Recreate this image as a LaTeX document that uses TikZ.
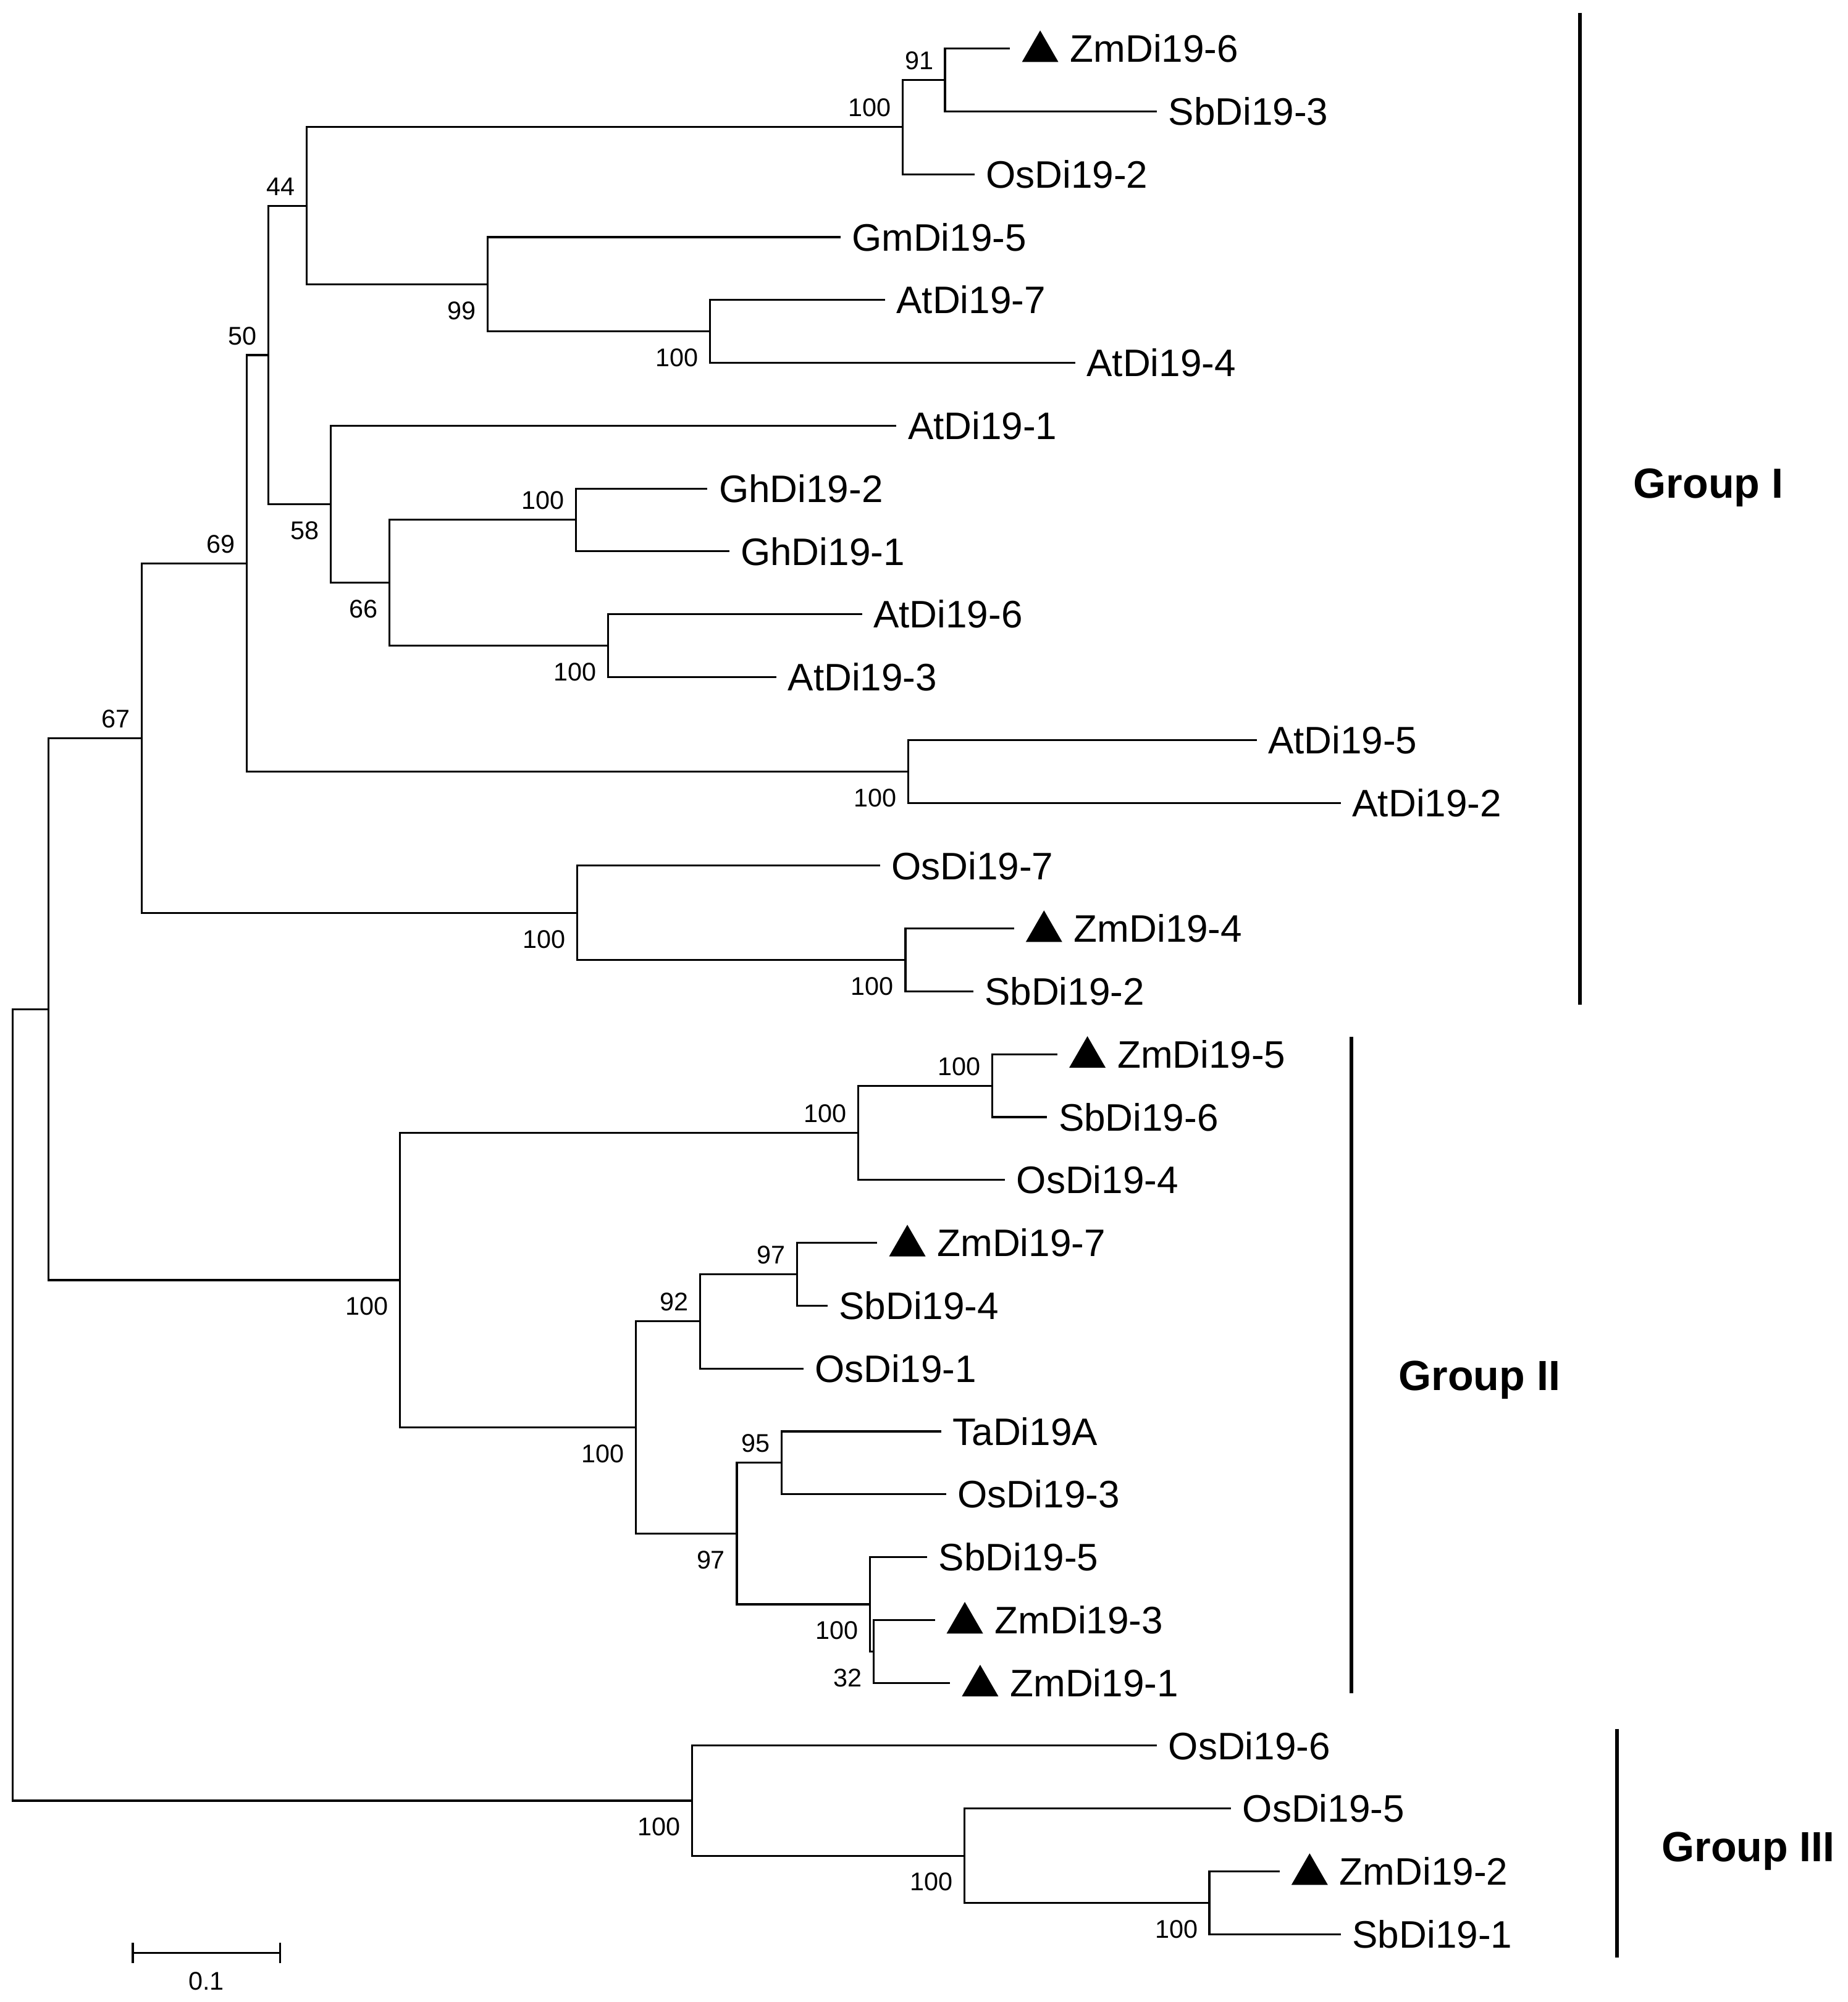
\documentclass[tikz,border=0pt]{standalone}
\usepackage{fontspec}
\setmainfont{Liberation Sans}
\usepackage{tikz}
\usetikzlibrary{shapes.geometric}
\tikzset{>=latex}
\tikzset{
  branch/.style = {draw=black, line width=1.5pt},
  leaf/.style = {anchor=west, inner sep=0pt, outer xsep=9pt, font=\fontsize{30}{36}\selectfont, text height=21.5pt, text depth=0pt},
  zmleaf/.style = {leaf, outer xsep=47pt},
  zmtri/.style = {regular polygon, regular polygon sides=3, fill=black, inner sep=0pt, minimum size=33pt},
  boot/.style = {inner sep=0pt, font=\fontsize{20}{24}\selectfont, text height=14.3pt, text depth=0pt},
  bootup/.style = {boot, anchor=south east, xshift=-9pt, yshift=8pt},
  bootdn/.style = {boot, anchor=north east, xshift=-9pt, yshift=-13pt},
  groupbar/.style = {draw=black, line width=2.9pt},
  grouplbl/.style = {anchor=base west, inner sep=0pt, font=\fontsize{33}{40}\selectfont\bfseries}
}

\begin{document}
\begin{tikzpicture}[x=1pt, y=-1pt]
\useasboundingbox (0,0) rectangle (1447,1568);

\node [zmleaf] (Zm6) at (791, 38.0) {ZmDi19-6};
\node [leaf] (Sb3) at (906, 87.2) {SbDi19-3};
\node [leaf] (Os2) at (763, 136.5) {OsDi19-2};
\node [leaf] (Gm5) at (658, 185.7) {GmDi19-5};
\node [leaf] (At7) at (693, 234.9) {AtDi19-7};
\node [leaf] (At4) at (842, 284.2) {AtDi19-4};
\node [leaf] (At1) at (702, 333.4) {AtDi19-1};
\node [leaf] (Gh2) at (554, 382.6) {GhDi19-2};
\node [leaf] (Gh1) at (571, 431.8) {GhDi19-1};
\node [leaf] (At6) at (675, 481.1) {AtDi19-6};
\node [leaf] (At3) at (608, 530.3) {AtDi19-3};
\node [leaf] (At5) at (984, 579.5) {AtDi19-5};
\node [leaf] (At2) at (1050, 628.8) {AtDi19-2};
\node [leaf] (Os7) at (689, 678.0) {OsDi19-7};
\node [zmleaf] (Zm4) at (794, 727.2) {ZmDi19-4};
\node [leaf] (Sb2) at (762, 776.5) {SbDi19-2};
\node [zmleaf] (Zm5) at (828, 825.7) {ZmDi19-5};
\node [leaf] (Sb6) at (820, 874.9) {SbDi19-6};
\node [leaf] (Os4) at (787, 924.1) {OsDi19-4};
\node [zmleaf] (Zm7) at (687, 973.4) {ZmDi19-7};
\node [leaf] (Sb4) at (648, 1022.6) {SbDi19-4};
\node [leaf] (Os1) at (629, 1071.8) {OsDi19-1};
\node [leaf] (Ta) at (737, 1121.1) {TaDi19A};
\node [leaf] (Os3) at (741, 1170.3) {OsDi19-3};
\node [leaf] (Sb5) at (726, 1219.5) {SbDi19-5};
\node [zmleaf] (Zm3) at (732, 1268.8) {ZmDi19-3};
\node [zmleaf] (Zm1) at (744, 1318.0) {ZmDi19-1};
\node [leaf] (Os6) at (906, 1367.2) {OsDi19-6};
\node [leaf] (Os5) at (964, 1416.4) {OsDi19-5};
\node [zmleaf] (Zm2) at (1002, 1465.7) {ZmDi19-2};
\node [leaf] (Sb1) at (1050, 1514.9) {SbDi19-1};

\node [zmtri] (Zm6m) at ([shift={(23.5pt,8.4pt)}]Zm6.base west) {};
\node [zmtri] (Zm4m) at ([shift={(23.5pt,8.4pt)}]Zm4.base west) {};
\node [zmtri] (Zm5m) at ([shift={(23.5pt,8.4pt)}]Zm5.base west) {};
\node [zmtri] (Zm7m) at ([shift={(23.5pt,8.4pt)}]Zm7.base west) {};
\node [zmtri] (Zm3m) at ([shift={(23.5pt,8.4pt)}]Zm3.base west) {};
\node [zmtri] (Zm1m) at ([shift={(23.5pt,8.4pt)}]Zm1.base west) {};
\node [zmtri] (Zm2m) at ([shift={(23.5pt,8.4pt)}]Zm2.base west) {};

\coordinate (a91) at (740, 62.6);
\coordinate (a100) at (707, 99.6);
\coordinate (b100) at (556, 259.6);
\coordinate (b99) at (382, 222.6);
\coordinate (c44) at (240, 161.1);
\coordinate (d100a) at (451, 407.2);
\coordinate (d100b) at (476, 505.7);
\coordinate (d66) at (305, 456.5);
\coordinate (d58) at (259, 395.0);
\coordinate (e50) at (210, 278.1);
\coordinate (f100) at (711, 604.2);
\coordinate (g69) at (193, 441.2);
\coordinate (h100a) at (709, 751.9);
\coordinate (h100b) at (452, 715.0);
\coordinate (i67) at (111, 578.1);
\coordinate (top) at (38, 790.4);
\coordinate (j100a) at (777, 850.3);
\coordinate (j100b) at (672, 887.2);
\coordinate (k97) at (624, 998.0);
\coordinate (k92) at (548, 1034.9);
\coordinate (m95) at (612, 1145.7);
\coordinate (n32) at (684, 1293.4);
\coordinate (n100) at (681, 1256.5);
\coordinate (p97) at (577, 1201.1);
\coordinate (q100) at (498, 1118.0);
\coordinate (r100) at (313, 1002.6);
\coordinate (t100a) at (947, 1490.3);
\coordinate (t100b) at (755, 1453.4);
\coordinate (u100) at (542, 1410.3);
\coordinate (root) at (10, 1100.4);

\draw [branch] (a91) |- (Zm6) (a91) |- (Sb3);
\draw [branch] (a100) |- (a91) (a100) |- (Os2);
\draw [branch] (b100) |- (At7) (b100) |- (At4);
\draw [branch] (b99) |- (Gm5) (b99) |- (b100);
\draw [branch] (c44) |- (a100) (c44) |- (b99);
\draw [branch] (d100a) |- (Gh2) (d100a) |- (Gh1);
\draw [branch] (d100b) |- (At6) (d100b) |- (At3);
\draw [branch] (d66) |- (d100a) (d66) |- (d100b);
\draw [branch] (d58) |- (At1) (d58) |- (d66);
\draw [branch] (e50) |- (c44) (e50) |- (d58);
\draw [branch] (f100) |- (At5) (f100) |- (At2);
\draw [branch] (g69) |- (e50) (g69) |- (f100);
\draw [branch] (h100a) |- (Zm4) (h100a) |- (Sb2);
\draw [branch] (h100b) |- (Os7) (h100b) |- (h100a);
\draw [branch] (i67) |- (g69) (i67) |- (h100b);
\draw [branch] (j100a) |- (Zm5) (j100a) |- (Sb6);
\draw [branch] (j100b) |- (j100a) (j100b) |- (Os4);
\draw [branch] (k97) |- (Zm7) (k97) |- (Sb4);
\draw [branch] (k92) |- (k97) (k92) |- (Os1);
\draw [branch] (m95) |- (Ta) (m95) |- (Os3);
\draw [branch] (n32) |- (Zm3) (n32) |- (Zm1);
\draw [branch] (n100) |- (Sb5) (n100) |- (n32);
\draw [branch] (p97) |- (m95) (p97) |- (n100);
\draw [branch] (q100) |- (k92) (q100) |- (p97);
\draw [branch] (r100) |- (j100b) (r100) |- (q100);
\draw [branch] (top) |- (i67) (top) |- (r100);
\draw [branch] (t100a) |- (Zm2) (t100a) |- (Sb1);
\draw [branch] (t100b) |- (Os5) (t100b) |- (t100a);
\draw [branch] (u100) |- (Os6) (u100) |- (t100b);
\draw [branch] (root) |- (top) (root) |- (u100);

\node [bootup] (ba91) at (a91) {91};
\node [bootup] (ba100) at (a100) {100};
\node [bootdn] (bb100) at (b100) {100};
\node [bootdn] (bb99) at (b99) {99};
\node [bootup] (bc44) at (c44) {44};
\node [bootup] (bd100a) at (d100a) {100};
\node [bootdn] (bd100b) at (d100b) {100};
\node [bootdn] (bd66) at (d66) {66};
\node [bootdn] (bd58) at (d58) {58};
\node [bootup] (be50) at (e50) {50};
\node [bootdn] (bf100) at (f100) {100};
\node [bootup] (bg69) at (g69) {69};
\node [bootdn] (bh100a) at (h100a) {100};
\node [bootdn] (bh100b) at (h100b) {100};
\node [bootup] (bi67) at (i67) {67};
\node [bootup] (bj100a) at (j100a) {100};
\node [bootup] (bj100b) at (j100b) {100};
\node [bootup] (bk97) at (k97) {97};
\node [bootup] (bk92) at (k92) {92};
\node [bootup] (bm95) at (m95) {95};
\node [bootdn] (bn32) at (n32) {32};
\node [bootdn] (bn100) at (n100) {100};
\node [bootdn] (bp97) at (p97) {97};
\node [bootdn] (bq100) at (q100) {100};
\node [bootdn] (br100) at (r100) {100};
\node [bootdn] (bt100a) at (t100a) {100};
\node [bootdn] (bt100b) at (t100b) {100};
\node [bootdn] (bu100) at (u100) {100};

\coordinate (g1a) at (1237, 10);
\coordinate (g1b) at (1237, 787);
\coordinate (g2a) at (1058, 812);
\coordinate (g2b) at (1058, 1326);
\coordinate (g3a) at (1266, 1354);
\coordinate (g3b) at (1266, 1533);
\draw [groupbar] (g1a) -- (g1b);
\draw [groupbar] (g2a) -- (g2b);
\draw [groupbar] (g3a) -- (g3b);
\node [grouplbl] (grp1) at (1279, 390) {Group I};
\node [grouplbl] (grp2) at (1095, 1089) {Group II};
\node [grouplbl] (grp3) at (1301, 1458) {Group III};

\coordinate (sbl) at (104, 1529.5);
\coordinate (sbr) at (219.5, 1529.5);
\draw [branch] (sbl) -- (sbr);
\draw [branch] (sbl) ++(0,-8) -- ++(0,16);
\draw [branch] (sbr) ++(0,-8) -- ++(0,16);
\node [boot, anchor=north] (sbtxt) at (161.5, 1544) {0.1};
\end{tikzpicture}
\end{document}
